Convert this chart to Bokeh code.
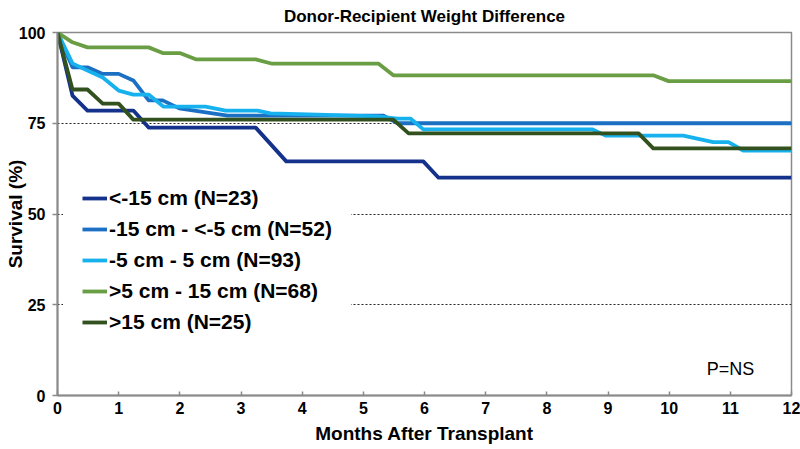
import math
from bokeh.plotting import figure
from bokeh.models import FixedTicker, Label, Legend, LegendItem
from bokeh.embed import file_html
from bokeh.resources import INLINE

# ---- data ----
title_text = "Donor-Recipient Weight Difference"
x_label = "Months After Transplant"
y_label = "Survival (%)"
x_ticks = [0, 1, 2, 3, 4, 5, 6, 7, 8, 9, 10, 11, 12]
y_ticks = [0, 25, 50, 75, 100]
grid_levels = [25, 50, 75]

names = ["<-15 cm (N=23)", "-15 cm - <-5 cm (N=52)", "-5 cm - 5 cm (N=93)",
         ">5 cm - 15 cm (N=68)", ">15 cm (N=25)"]
colors = ["#14318c", "#1b70c4", "#17b2ee", "#6a9e45", "#33501f"]

s1_x = [0, 0.245, 0.49, 1.24, 1.49, 3.24, 3.74, 5.98, 6.23, 12]
s1_y = [100, 82.6, 78.5, 78.5, 73.8, 73.8, 64.5, 64.5, 60.0, 60.0]

s2_x = [0, 0.245, 0.49, 0.74, 1.0, 1.24, 1.49, 1.72, 1.99, 2.78, 5.33, 5.56, 12]
s2_y = [100, 90.4, 90.4, 88.6, 88.6, 86.8, 81.3, 81.3, 79.1, 77.1, 77.1, 75.0, 75.0]

s3_x = [0, 0.245, 0.49, 0.74, 1.0, 1.24, 1.49, 1.73, 2.42, 2.75, 3.27, 3.48, 4.25,
        5.23, 5.56, 5.77, 5.98, 8.75, 8.96, 10.23, 10.72, 10.97, 11.21, 12]
s3_y = [100, 91.5, 89.5, 87.6, 84.0, 82.9, 82.9, 79.6, 79.6, 78.5, 78.5, 77.7, 77.4,
        76.9, 76.3, 76.3, 73.3, 73.3, 71.6, 71.6, 69.8, 69.8, 67.5, 67.5]

s4_x = [0, 0.245, 0.49, 1.49, 1.73, 2.01, 2.26, 3.24, 3.51, 5.25, 5.49, 9.74, 9.99, 12]
s4_y = [100, 97.3, 95.9, 95.9, 94.3, 94.3, 92.6, 92.6, 91.4, 91.4, 88.2, 88.2, 86.6, 86.6]

s5_x = [0, 0.245, 0.49, 0.74, 1.0, 1.24, 5.49, 5.74, 9.5, 9.74, 12]
s5_y = [100, 84.3, 84.3, 80.4, 80.4, 76.0, 76.0, 72.2, 72.2, 68.1, 68.1]

series = [(s1_x, s1_y), (s2_x, s2_y), (s3_x, s3_y), (s4_x, s4_y), (s5_x, s5_y)]

FONT = "Liberation Sans"

p = figure(width=800, height=449, x_range=(0, 12), y_range=(0, 100),
           output_backend="svg", toolbar_location=None,
           min_border_left=57, min_border_right=9, min_border_top=32,
           min_border_bottom=54, title=title_text)
p.background_fill_color = "white"
p.border_fill_color = "white"
p.outline_line_color = "#8a8a8a"
p.outline_line_width = 1.5

p.title.text_font = FONT
p.title.text_font_style = "bold"
p.title.text_font_size = "17px"
p.title.text_color = "black"
p.title.align = "center"
p.title.vertical_align = "top"
p.title.text_line_height = 0.6
p.title.standoff = 10

# grid
p.xgrid.grid_line_color = None
p.ygrid.ticker = FixedTicker(ticks=grid_levels)
p.ygrid.grid_line_color = "#222222"
p.ygrid.grid_line_dash = "2 2"
p.ygrid.grid_line_width = 1

# axes
for ax in (p.xaxis[0], p.yaxis[0]):
    ax.axis_line_color = "#8a8a8a"
    ax.axis_line_width = 2
    ax.major_tick_line_color = "#8a8a8a"
    ax.major_tick_line_width = 1.5
    ax.minor_tick_line_color = None
    ax.major_label_text_font = FONT
    ax.major_label_text_font_style = "bold"
    ax.major_label_text_color = "black"
    ax.axis_label_text_font = FONT
    ax.axis_label_text_font_style = "bold"
    ax.axis_label_text_font_size = "19px"
    ax.axis_label_text_color = "black"

p.xaxis.ticker = FixedTicker(ticks=x_ticks)
p.xaxis.major_tick_in = 4
p.xaxis.major_tick_out = 0
p.xaxis.major_label_standoff = 6
p.xaxis.major_label_text_font_size = "16px"
p.xaxis.axis_label = x_label
p.xaxis.axis_label_standoff = 6

p.yaxis.ticker = FixedTicker(ticks=y_ticks)
p.yaxis.major_tick_in = 0
p.yaxis.major_tick_out = 5
p.yaxis.major_label_standoff = 7
p.yaxis.major_label_text_font_size = "16px"
p.yaxis.axis_label = y_label
p.yaxis.axis_label_standoff = -10

items = []
for (xs, ys), c, n in zip(series, colors, names):
    r = p.line(xs, ys, line_color=c, line_width=3.8, line_join="round")
    items.append(LegendItem(label=n, renderers=[r]))

legend = Legend(items=items, location=(6, 42), padding=18, spacing=7,
                label_text_font=FONT, label_text_font_style="bold",
                label_text_font_size="21px", label_text_color="black",
                glyph_width=25, glyph_height=24, label_height=24,
                label_standoff=2, border_line_color="white", border_line_width=1,
                background_fill_color="white", background_fill_alpha=1.0,
                margin=0)
p.add_layout(legend, "center")

p.add_layout(Label(x=673, y=27, x_units="screen", y_units="screen", text="P=NS",
                   text_font=FONT, text_font_size="18px",
                   text_align="center", text_baseline="middle", text_color="black"))

open("out.html", "w").write(file_html(p, INLINE))
